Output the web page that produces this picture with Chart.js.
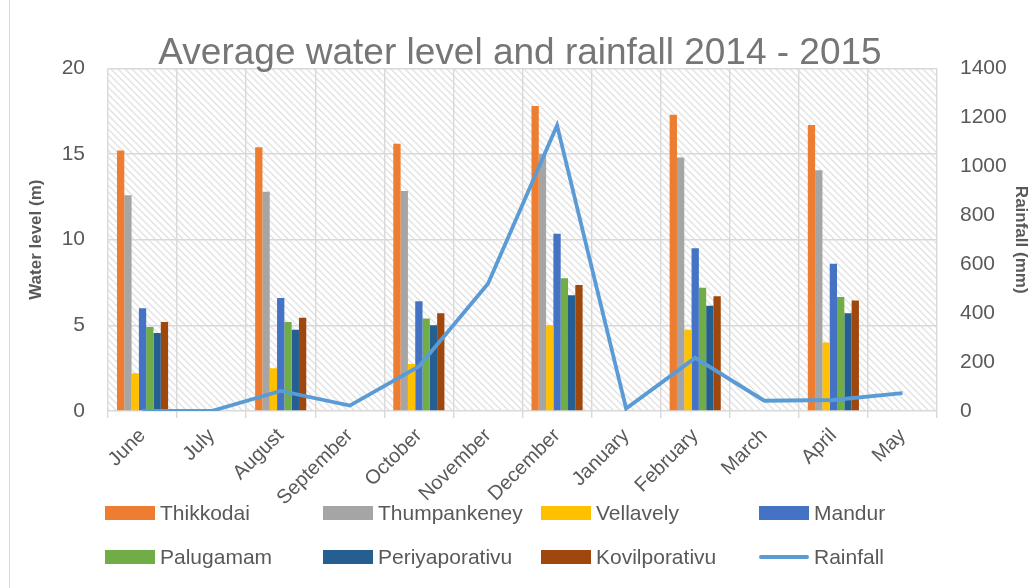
<!DOCTYPE html>
<html>
<head>
<meta charset="utf-8">
<script src="https://cdn.jsdelivr.net/npm/chart.js@4.4.1/dist/chart.umd.min.js"></script>
<style>
  html, body { margin: 0; padding: 0; background: #fff; overflow: hidden; }
  #wrap { position: relative; width: 1040px; height: 588px; }
  #frame { position: absolute; left: 9px; top: 0; width: 1px; height: 588px; background: #d9d9d9; }
  #legend { position: absolute; left: 0; top: 0; width: 1031px; height: 588px; pointer-events: none;
    font-family: "Liberation Sans", Arial, sans-serif; font-size: 21px; color: #595959; }
  .item { position: absolute; height: 30px; display: flex; align-items: center; white-space: nowrap; }
  .swatch { width: 50px; height: 14px; margin-right: 5px; }
  .swatch.line { height: 4px; border-radius: 2px; }
</style>
</head>
<body>
<div id="wrap">
  <div id="frame"></div>
  <canvas id="chart"></canvas>
  <div id="legend"></div>
</div>
<script>
document.addEventListener('DOMContentLoaded', () => {
  const months = ['June', 'July', 'August', 'September', 'October', 'November',
    'December', 'January', 'February', 'March', 'April', 'May'];

  // water level (m), only measured every second month
  const thikkodai      = [15.2, null, 15.4, null, 15.6, null, 17.8, null, 17.3, null, 16.7, null];
  const thumpankeney   = [12.6, null, 12.8, null, 12.85, null, 15.0, null, 14.8, null, 14.05, null];
  const vellavely      = [2.2, null, 2.5, null, 2.75, null, 5.0, null, 4.75, null, 4.0, null];
  const mandur         = [6.0, null, 6.6, null, 6.4, null, 10.35, null, 9.5, null, 8.6, null];
  const palugamam      = [4.9, null, 5.2, null, 5.4, null, 7.75, null, 7.2, null, 6.65, null];
  const periyaporativu = [4.55, null, 4.75, null, 5.0, null, 6.75, null, 6.15, null, 5.7, null];
  const kovilporativu  = [5.2, null, 5.45, null, 5.7, null, 7.35, null, 6.7, null, 6.45, null];

  // rainfall (mm)
  const rainfall = [0, 0, 82, 22, 182, 520, 1167, 10, 217, 42, 45, 73];

  const leftTicks = [0, 5, 10, 15, 20];
  const rightTicks = [0, 200, 400, 600, 800, 1000, 1200, 1400];

  const font = '"Liberation Sans", Arial, sans-serif';
  const textColor = '#595959';
  const gridColor = '#d9d9d9';

  // hatched plot background
  const tile = document.createElement('canvas');
  tile.width = 7;
  tile.height = 7;
  const tctx = tile.getContext('2d');
  tctx.fillStyle = '#ffffff';
  tctx.fillRect(0, 0, 7, 7);
  tctx.strokeStyle = '#e2e2e2';
  tctx.lineWidth = 1.4;
  tctx.beginPath();
  tctx.moveTo(-1, -1); tctx.lineTo(8, 8);
  tctx.moveTo(-1, 6); tctx.lineTo(1, 8);
  tctx.moveTo(6, -1); tctx.lineTo(8, 1);
  tctx.stroke();

  const hatchPlugin = {
    id: 'hatch',
    beforeDraw(chart) {
      const { ctx, chartArea } = chart;
      ctx.save();
      ctx.fillStyle = ctx.createPattern(tile, 'repeat');
      ctx.fillRect(chartArea.left, chartArea.top, chartArea.right - chartArea.left, chartArea.bottom - chartArea.top);
      ctx.restore();
    }
  };

  const bar = (label, data, color) => ({
    type: 'bar', label, data, backgroundColor: color, borderWidth: 0,
    yAxisID: 'y', order: 1, categoryPercentage: 0.74, barPercentage: 1.0
  });

  const datasets = [
    bar('Thikkodai', thikkodai, '#ED7D31'),
    bar('Thumpankeney', thumpankeney, '#A5A5A5'),
    bar('Vellavely', vellavely, '#FFC000'),
    bar('Mandur', mandur, '#4472C4'),
    bar('Palugamam', palugamam, '#70AD47'),
    bar('Periyaporativu', periyaporativu, '#255E91'),
    bar('Kovilporativu', kovilporativu, '#9E480E'),
    {
      type: 'line', label: 'Rainfall', data: rainfall, borderColor: '#5B9BD5',
      backgroundColor: '#5B9BD5', borderWidth: 3.8, pointRadius: 0, tension: 0,
      yAxisID: 'y1', order: 0
    }
  ];

  const chart = new Chart(document.getElementById('chart'), {
    type: 'bar',
    data: { labels: months, datasets },
    options: {
      responsive: true,
      maintainAspectRatio: false,
      animation: false,
      layout: { padding: 0 },
      plugins: {
        legend: { display: false },
        tooltip: { enabled: false },
        title: {
          display: true,
          text: 'Average water level and rainfall 2014 - 2015',
          color: '#767676',
          font: { family: font, size: 37, weight: 'normal' },
          padding: { top: 32, bottom: -8 }
        }
      },
      scales: {
        x: {
          offset: true,
          grid: { color: gridColor, lineWidth: 1.4, offset: true, tickLength: 7, tickColor: gridColor },
          border: { display: false },
          ticks: {
            color: textColor, font: { family: font, size: 20 },
            minRotation: 45, maxRotation: 45, padding: 6, autoSkip: false
          },
          afterFit(scale) { scale.height = 177; }
        },
        y: {
          position: 'left', min: 0, max: 20,
          afterBuildTicks(scale) { scale.ticks = leftTicks.map(v => ({ value: v })); },
          grid: { color: gridColor, lineWidth: 1.4, drawTicks: false },
          border: { display: false },
          ticks: { color: textColor, font: { family: font, size: 21 }, padding: 23, callback: v => String(v) },
          title: {
            display: true, text: 'Water level (m)', color: textColor,
            font: { family: font, size: 17, weight: 'bold' }, padding: { top: 26 }
          },
          afterFit(scale) { scale.width = 108; }
        },
        y1: {
          position: 'right', min: 0, max: 1400,
          afterBuildTicks(scale) { scale.ticks = rightTicks.map(v => ({ value: v })); },
          grid: { drawOnChartArea: false, drawTicks: false },
          border: { display: false },
          ticks: { color: textColor, font: { family: font, size: 21 }, padding: 23, callback: v => String(v) },
          title: {
            display: true, text: 'Rainfall (mm)', color: textColor,
            font: { family: font, size: 17, weight: 'bold' }, padding: { top: 9 }
          },
          afterFit(scale) { scale.width = 103; }
        }
      }
    },
    plugins: [hatchPlugin]
  });

  // legend in a 4 column grid, built from the chart's datasets
  const legend = document.getElementById('legend');
  chart.data.datasets.forEach((ds, i) => {
    const item = document.createElement('div');
    item.className = 'item';
    item.style.left = (105 + (i % 4) * 218) + 'px';
    item.style.top = (498 + Math.floor(i / 4) * 44) + 'px';
    const sw = document.createElement('div');
    sw.className = ds.type === 'line' ? 'swatch line' : 'swatch';
    sw.style.background = ds.type === 'line' ? ds.borderColor : ds.backgroundColor;
    const txt = document.createElement('span');
    txt.textContent = ds.label;
    item.appendChild(sw);
    item.appendChild(txt);
    legend.appendChild(item);
  });
});
</script>
</body>
</html>
